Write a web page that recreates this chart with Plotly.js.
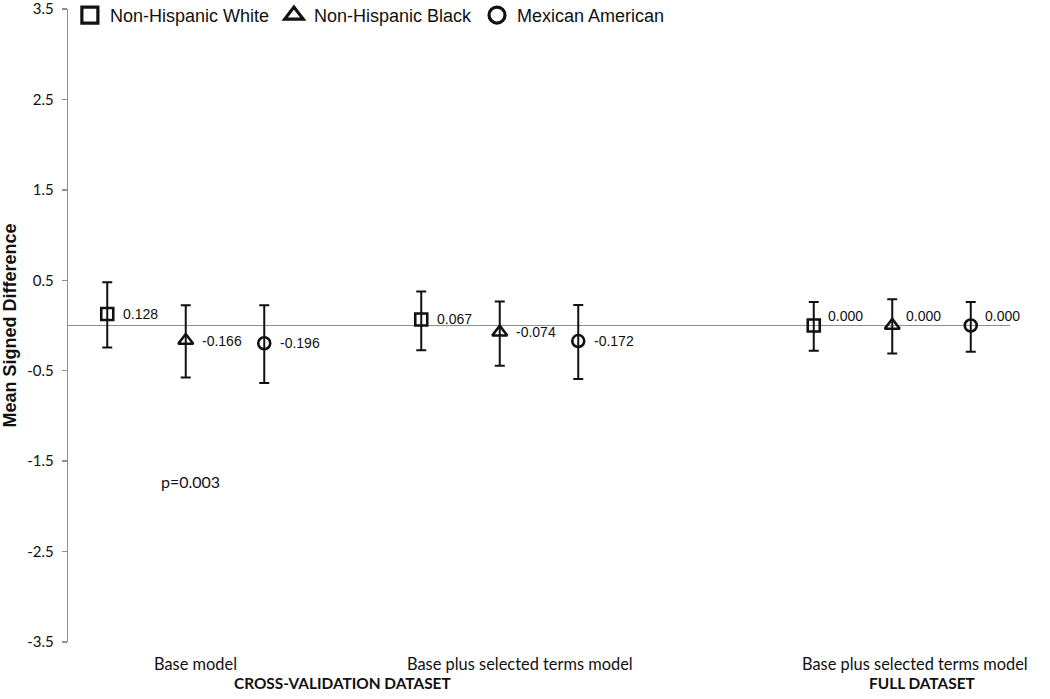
<!DOCTYPE html>
<html>
<head>
<meta charset="utf-8">
<script src="https://cdn.plot.ly/plotly-3.0.1.min.js"></script>
<style>html,body{margin:0;padding:0;background:#fff;}#chart{width:1050px;height:699px;}</style>
</head>
<body>
<div id="chart"></div>
<script>
// ---- data ----
var modelLabels = ["Base model", "Base plus selected terms model", "Base plus selected terms model"];
var datasetLabels = ["CROSS-VALIDATION DATASET", "FULL DATASET"];
var seriesNames = ["Non-Hispanic White", "Non-Hispanic Black", "Mexican American"];
var whiteValues = [0.128, 0.067, 0.000];
var blackValues = [-0.166, -0.074, 0.000];
var mexicanValues = [-0.196, -0.172, 0.000];
var whiteErrPlus = [0.35, 0.31, 0.26];
var whiteErrMinus = [0.37, 0.34, 0.28];
var blackErrPlus = [0.39, 0.34, 0.29];
var blackErrMinus = [0.41, 0.37, 0.31];
var mexicanErrPlus = [0.42, 0.40, 0.26];
var mexicanErrMinus = [0.44, 0.42, 0.29];
var pValueText = "p=0.003";
var yTickVals = [-3.5, -2.5, -1.5, -0.5, 0.5, 1.5, 2.5, 3.5];

// ---- layout helpers (positions) ----
var groupBase = [0, 4, 9];           // slot of first series in each model group
var seriesVals = [whiteValues, blackValues, mexicanValues];
var seriesPlus = [whiteErrPlus, blackErrPlus, mexicanErrPlus];
var seriesMinus = [whiteErrMinus, blackErrMinus, mexicanErrMinus];
var symbols = ["square-open", "triangle-up-open", "circle-open"];
var black = "#111111";
var calibriLike = "Lato, Open Sans, sans-serif";
var arialLike = "Liberation Sans, Arial, sans-serif";

var traces = [];
var annotations = [];
for (var s = 0; s < 3; s++) {
  var xs = groupBase.map(function (b) { return b + s; });
  traces.push({
    type: "scatter", mode: "markers", x: xs, y: seriesVals[s],
    showlegend: false, hoverinfo: "skip",
    marker: { symbol: symbols[s], size: s === 1 ? 13 : 12, color: black, line: { width: 2.6, color: black } },
    error_y: { type: "data", symmetric: false, array: seriesPlus[s], arrayminus: seriesMinus[s],
               color: black, thickness: 2, width: 5 }
  });
  // legend-only trace with bigger symbol
  traces.push({
    type: "scatter", mode: "markers", x: [null], y: [null], name: seriesNames[s],
    marker: { symbol: symbols[s], size: 16, color: black, line: { width: 3.2, color: black } }
  });
  for (var g = 0; g < 3; g++) {
    var v = seriesVals[s][g];
    annotations.push({
      x: xs[g], y: v, xref: "x", yref: "y", text: v.toFixed(3), showarrow: false,
      xanchor: "left", yanchor: "middle", xshift: g === 2 ? 12 : 14, yshift: g === 2 ? 10 : 0,
      font: { family: arialLike, size: 14, color: black }
    });
  }
}

var labelShift = [10, 20, 23];
for (var g = 0; g < 3; g++) {
  annotations.push({
    x: groupBase[g] + 1, y: 0, xref: "x", yref: "paper", yanchor: "middle", yshift: -21,
    xshift: labelShift[g], text: modelLabels[g], showarrow: false,
    font: { family: calibriLike, size: 16.4, color: black }
  });
}
annotations.push({
  x: (groupBase[0] + groupBase[1]) / 2 + 1, y: 0, xref: "x", yref: "paper", yanchor: "middle", yshift: -41,
  text: "<b>" + datasetLabels[0] + "</b>", showarrow: false,
  font: { family: calibriLike, size: 15.4, color: black }
});
annotations.push({
  x: groupBase[2] + 1, y: 0, xref: "x", yref: "paper", yanchor: "middle", yshift: -41, xshift: 30,
  text: "<b>" + datasetLabels[1] + "</b>", showarrow: false,
  font: { family: calibriLike, size: 15.4, color: black }
});
annotations.push({
  x: groupBase[0] + 1, y: -1.72, xref: "x", yref: "y", xshift: 5, text: pValueText, showarrow: false,
  font: { family: calibriLike, size: 16, color: black }
});

var layout = {
  width: 1050, height: 699,
  margin: { l: 68, r: 40, t: 9, b: 57, autoexpand: false },
  paper_bgcolor: "#fff", plot_bgcolor: "#fff",
  showlegend: true,
  legend: {
    orientation: "h", x: 0.002, y: 0.99, xanchor: "left", yanchor: "middle",
    font: { family: arialLike, size: 18, color: black },
    bgcolor: "rgba(0,0,0,0)", traceorder: "normal"
  },
  xaxis: {
    range: [-0.5, 11.5], showgrid: false, zeroline: false, showline: false,
    showticklabels: false, ticks: "", fixedrange: true
  },
  yaxis: {
    range: [-3.5, 3.5], tickvals: yTickVals, ticktext: yTickVals.map(function (t) { return t.toFixed(1); }),
    showgrid: false, zeroline: true, zerolinecolor: "#8f8f8f", zerolinewidth: 1.3,
    showline: true, linecolor: "#8f8f8f", linewidth: 1.3,
    ticks: "outside", ticklen: 5, tickcolor: "#8f8f8f", tickwidth: 1.3,
    ticklabeloverflow: "allow", ticklabelstandoff: 5,
    tickfont: { family: calibriLike, size: 15, color: black },
    title: { text: "<b>Mean Signed Difference</b>", standoff: 20,
             font: { family: arialLike, size: 18, color: black } }
  },
  annotations: annotations
};

Plotly.newPlot("chart", traces, layout, { displayModeBar: false, staticPlot: true });
</script>
</body>
</html>
